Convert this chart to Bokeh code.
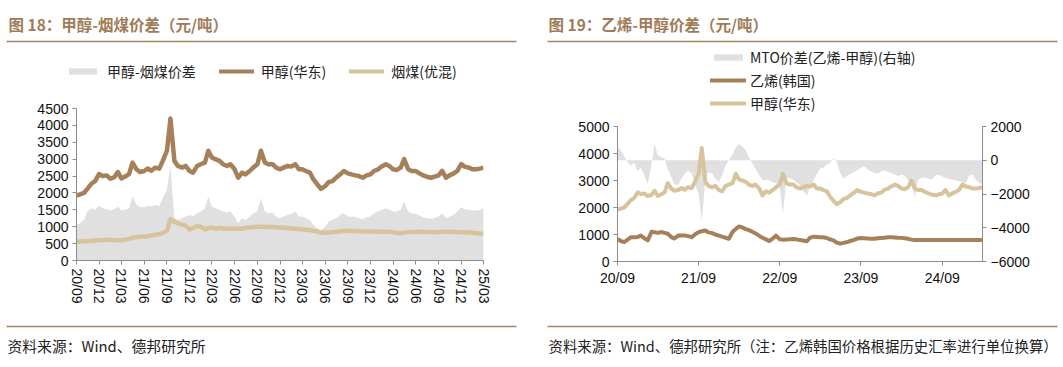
import pandas as pd
from bokeh.plotting import figure
from bokeh.models import (Range1d, LinearAxis, Label, BoxAnnotation, Legend, LegendItem,
                          FixedTicker, DatetimeTickFormatter, ColumnDataSource)
from bokeh.layouts import row, column
from bokeh.embed import file_html
from bokeh.resources import INLINE

# ---------------- data ----------------
dates = pd.date_range("2020-09-01", "2025-03-01", freq="SMS")  # 1st & 15th of each month

methanol_east = [
    1920, 1960, 2000, 2120, 2280, 2350, 2560, 2500,
    2520, 2420, 2470, 2620, 2430, 2480, 2560, 2900,
    2700, 2620, 2650, 2720, 2660, 2750, 2720, 2950,
    3250, 4200, 2950, 2800, 2750, 2800, 2650, 2600,
    2800, 2850, 2900, 3250, 3050, 3000, 2950, 2850,
    2800, 2850, 2700, 2450, 2600, 2550, 2650, 2750,
    2850, 3250, 2900, 2850, 2850, 2750, 2700, 2750,
    2800, 2780, 2850, 2700, 2700, 2650, 2600, 2400,
    2250, 2120, 2200, 2320, 2350, 2450, 2550, 2650,
    2580, 2550, 2520, 2500, 2450, 2520, 2550, 2650,
    2700, 2780, 2850, 2800, 2700, 2680, 2750, 3000,
    2700, 2650, 2650, 2580, 2520, 2480, 2450, 2480,
    2520, 2650, 2450, 2520, 2580, 2650, 2850, 2780,
    2750, 2700, 2700, 2720, 2750,
]
coal_mix = [
    560, 565, 570, 575, 580, 590, 600, 610,
    620, 610, 600, 600, 600, 610, 640, 680,
    690, 700, 710, 720, 740, 760, 780, 810,
    880, 1230, 1150, 1100, 1060, 1030, 920, 960,
    1020, 1000, 920, 960, 970, 950, 960, 950,
    940, 950, 950, 940, 950, 960, 980, 990,
    1000, 1000, 1000, 995, 990, 985, 980, 970,
    960, 950, 940, 930, 920, 910, 900, 880,
    860, 820, 820, 830, 840, 850, 860, 870,
    880, 875, 870, 865, 860, 860, 860, 855,
    850, 850, 850, 850, 840, 820, 810, 830,
    840, 845, 850, 845, 845, 845, 840, 840,
    845, 850, 850, 850, 845, 840, 840, 835,
    830, 820, 810, 800, 795,
]
meoh_coal_spread = [
    1050, 1100, 1200, 1450, 1550, 1500, 1620, 1550,
    1520, 1480, 1520, 1600, 1480, 1500, 1550, 1900,
    1650, 1580, 1580, 1620, 1600, 1650, 1600, 1850,
    2100, 2800, 1250, 1200, 1250, 1300, 1350, 1300,
    1400, 1450, 1550, 1900, 1600, 1550, 1500, 1450,
    1420, 1450, 1300, 1100, 1250, 1200, 1300, 1400,
    1450, 1850, 1450, 1400, 1420, 1300, 1250, 1300,
    1350, 1380, 1450, 1300, 1300, 1250, 1200, 1050,
    950, 900, 1000, 1150, 1200, 1250, 1350, 1400,
    1300, 1300, 1280, 1250, 1220, 1280, 1300, 1400,
    1450, 1500, 1550, 1500, 1450, 1450, 1500, 1750,
    1450, 1400, 1380, 1330, 1280, 1250, 1230, 1260,
    1300, 1400, 1250, 1300, 1350, 1450, 1580, 1520,
    1500, 1480, 1480, 1500, 1550,
]
ethylene_korea = [
    840, 760, 720, 800, 900, 900, 910, 960,
    860, 780, 1100, 1080, 1060, 1090, 1060, 1030,
    900, 850, 960, 960, 960, 940, 900, 1000,
    1090, 1120, 1150, 1080, 1050, 1000, 960, 920,
    880, 840, 1100, 1200, 1300, 1270, 1200, 1160,
    1100, 1040, 950, 880, 820, 760, 850, 960,
    820, 810, 815, 820, 830, 820, 800, 780,
    750, 880, 920, 910, 900, 900, 870, 820,
    780, 700, 660, 690, 720, 760, 800, 850,
    870, 860, 850, 840, 840, 860, 870, 880,
    900, 900, 890, 880, 875, 860, 840, 810,
    800, 800, 800, 800, 800, 800, 800, 800,
    800, 800, 800, 800, 800, 800, 800, 800,
    800, 800, 800, 800, 800,
]
mto_spread = [
    800, 600, 250, -100, -340, -150, -630, -450,
    -930, -1400, -300, 1000, 300, 200, 100, -500,
    -1000, -1400, -1500, -1100, -800, -600, -800, -1400,
    -2000, -3600, -1200, -700, -800, -1100, -1300, -900,
    -300, 0, 350, 750, 950, 850, 600, 200,
    -200, -500, -900, -1200, -1150, -1200, -1300, -1350,
    -1600, -3200, -1100, -1050, -1150, -1300, -1500, -1800,
    -2100, -1600, -1150, -800, -500, -450, -250, -150,
    100, -100, -800, -1100, -950, -800, -700, -600,
    -450, -350, -550, -650, -750, -800, -650, -600,
    -700, -750, -850, -950, -850, -900, -1200, -1400,
    -2200, -1150, -1050, -1000, -1100, -1150, -900, -850,
    -950, -1050, -1100, -1150, -1200, -1250, -1300, -1350,
    -900, -850, -1200, -1350, -1450,
]

left_ticks = pd.date_range("2020-09-01", "2025-03-01", freq="3MS")
right_ticks = pd.date_range("2020-09-01", "2024-09-01", freq="12MS")

# ---------------- style ----------------
BROWN = "#A6805A"
TAN = "#D8C49C"
GRAY = "#E0E0E0"
HEAD = "#A07B57"
RULE = "#A58461"
AXIS = "#8C8C8C"
CJK = "Noto Sans CJK SC"
NUM = "Liberation Sans"


def ms(ts):
    return ts.value // 10**6


def style_axis(ax):
    ax.axis_line_color = AXIS
    ax.major_tick_line_color = AXIS
    ax.minor_tick_line_color = None
    ax.major_tick_in = 0
    ax.major_tick_out = 4
    ax.major_label_text_font = NUM
    ax.major_label_text_font_size = "14px"
    ax.major_label_text_color = "#111111"
    ax.major_label_standoff = 4


def dt_fmt():
    f = "%y/%m"
    return DatetimeTickFormatter(days=f, months=f, years=f, hours=f, minutes=f,
                                 seconds=f, milliseconds=f, microseconds=f, hourmin=f, minsec=f)


def blank(w, h):
    b = figure(width=w, height=h, x_range=Range1d(0, w), y_range=Range1d(0, h),
               min_border=0, min_border_left=0, min_border_right=0, min_border_top=0,
               min_border_bottom=0, x_axis_location=None, y_axis_location=None,
               toolbar_location=None, output_backend="svg", frame_align=False)
    b.outline_line_color = None
    b.grid.visible = False
    return b


def head_fig(w, h, title, tx, rx0, rx1):
    hf = blank(w, h)
    hf.add_layout(Label(x=tx, y=h - 23, text=title, text_font=CJK, text_font_size="15.5px",
                        text_font_style="bold", text_color=HEAD, text_baseline="middle"))
    hf.add_layout(BoxAnnotation(left=rx0, right=rx1, bottom=h - 41.8, top=h - 40.2,
                                fill_color=RULE, fill_alpha=1, line_color=None))
    return hf


def foot_fig(w, h, source, tx, rx0, rx1, size):
    ff = blank(w, h)
    ff.add_layout(BoxAnnotation(left=rx0, right=rx1, bottom=h - 8.8, top=h - 7.2,
                                fill_color=RULE, fill_alpha=1, line_color=None))
    ff.add_layout(Label(x=tx, y=h - 27, text=source, text_font=CJK, text_font_size=size,
                        text_color="#222222", text_baseline="middle"))
    return ff


def legend_keys(hf, items):
    # legend key glyphs: renderers whose points lie outside the visible range
    its = []
    for label, kind, color, lw in items:
        if kind == "area":
            r = hf.varea(x=[-50, -40], y1=[-50, -50], y2=[-40, -40], fill_color=color)
        else:
            r = hf.line(x=[-50, -40], y=[-50, -50], line_color=color, line_width=lw,
                        line_cap="round")
        its.append(LegendItem(label=label, renderers=[r]))
    return its


# ---------------- left panel ----------------
LW = 530
L_HEAD, L_CHART, L_FOOT = 92, 226, 49

h1 = head_fig(LW, L_HEAD, "图 18：甲醇-烟煤价差（元/吨）", 8, 6, 516)
leg1 = Legend(items=legend_keys(h1, [("甲醇-烟煤价差", "area", GRAY, 0),
                                     ("甲醇(华东)", "line", BROWN, 4),
                                     ("烟煤(优混)", "line", TAN, 4)]),
              orientation="horizontal", location=(65, L_HEAD - 81), border_line_color=None,
              background_fill_alpha=0, padding=0, margin=0, spacing=23, glyph_width=35,
              glyph_height=8, label_height=16, label_standoff=7, label_text_font=CJK,
              label_text_font_size="14px", label_text_color="#222222")
h1.add_layout(leg1, "center")

p1 = figure(width=LW, height=L_CHART, x_axis_type="datetime", output_backend="svg",
            toolbar_location=None, min_border_left=76, min_border_top=16,
            min_border_right=LW - 76 - 407, min_border_bottom=L_CHART - 16 - 152,
            x_range=Range1d(dates[0], dates[-1]), y_range=Range1d(0, 4500), frame_align=False)
p1.outline_line_color = None
p1.grid.visible = False

src1 = ColumnDataSource(dict(d=dates, m=methanol_east, c=coal_mix, s=meoh_coal_spread))
p1.varea(x="d", y1=0, y2="s", source=src1, fill_color=GRAY)
p1.line(x="d", y="m", source=src1, line_color=BROWN, line_width=4.5, line_join="round")
p1.line(x="d", y="c", source=src1, line_color=TAN, line_width=4.5, line_join="round")

style_axis(p1.xaxis[0])
style_axis(p1.yaxis[0])
p1.xaxis[0].ticker = FixedTicker(ticks=[ms(t) for t in left_ticks])
p1.xaxis[0].formatter = dt_fmt()
p1.xaxis[0].major_label_orientation = "vertical"
p1.yaxis[0].ticker = FixedTicker(ticks=list(range(0, 4501, 500)))

f1 = foot_fig(LW, L_FOOT, "资料来源：Wind、德邦研究所", 7, 6, 516, "14.8px")

# ---------------- right panel ----------------
RW = 533
R_HEAD, R_CHART, R_FOOT = 116, 202, 49

h2 = head_fig(RW, R_HEAD, "图 19：乙烯-甲醇价差（元/吨）", 18, 17, 527)
leg2 = Legend(items=legend_keys(h2, [("MTO价差(乙烯-甲醇)(右轴)", "area", GRAY, 0),
                                     ("乙烯(韩国)", "line", BROWN, 4),
                                     ("甲醇(华东)", "line", TAN, 4)]),
              orientation="vertical", location=(180, R_HEAD - 113), border_line_color=None,
              background_fill_alpha=0, padding=0, margin=0, spacing=3, glyph_width=36,
              glyph_height=8, label_height=16, label_standoff=4, label_text_font=CJK,
              label_text_font_size="14px", label_text_color="#222222")
h2.add_layout(leg2, "center")

p2 = figure(width=RW, height=R_CHART, x_axis_type="datetime", output_backend="svg",
            toolbar_location=None, min_border_left=87, min_border_top=10,
            min_border_right=RW - 87 - 365, min_border_bottom=R_CHART - 10 - 135,
            x_range=Range1d(dates[0], dates[-1]), y_range=Range1d(0, 5000), frame_align=False)
p2.extra_y_ranges = {"y2": Range1d(-6000, 2000)}
p2.outline_line_color = None
p2.grid.visible = False

src2 = ColumnDataSource(dict(d=dates, e=ethylene_korea, m=methanol_east, s=mto_spread))
p2.varea(x="d", y1=0, y2="s", source=src2, fill_color=GRAY, y_range_name="y2")
p2.line(x="d", y="e", source=src2, line_color=BROWN, line_width=4, line_join="round")
p2.line(x="d", y="m", source=src2, line_color=TAN, line_width=4, line_join="round")

ax2 = LinearAxis(y_range_name="y2", ticker=FixedTicker(ticks=list(range(-6000, 2001, 2000))))
p2.add_layout(ax2, "right")
for ax in (p2.xaxis[0], p2.yaxis[0], ax2):
    style_axis(ax)
p2.xaxis[0].ticker = FixedTicker(ticks=[ms(t) for t in right_ticks])
p2.xaxis[0].formatter = dt_fmt()
p2.yaxis[0].ticker = FixedTicker(ticks=list(range(0, 5001, 1000)))

f2 = foot_fig(RW, R_FOOT, "资料来源：Wind、德邦研究所（注：乙烯韩国价格根据历史汇率进行单位换算）",
              18, 17, 527, "14.4px")

layout = row(column(h1, p1, f1), column(h2, p2, f2))
open("out.html", "w").write(file_html(layout, INLINE))
